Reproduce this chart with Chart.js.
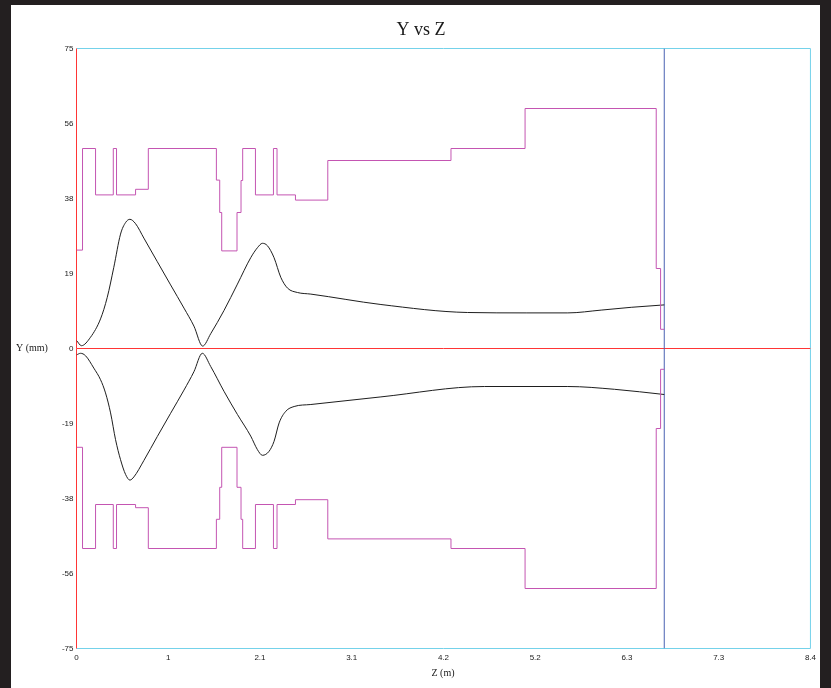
<!DOCTYPE html>
<html>
<head>
<meta charset="utf-8">
<title>Y vs Z</title>
<script src="https://cdn.jsdelivr.net/npm/chart.js@4/dist/chart.umd.min.js"></script>
<style>
  html, body { margin: 0; padding: 0; background: #231f20; width: 831px; height: 688px; overflow: hidden; }
  #wrap { position: absolute; left: 11px; top: 5px; width: 809px; height: 683px; background: #ffffff; }
  canvas { display: block; }
</style>
</head>
<body>
<div id="wrap"><canvas id="c" width="809" height="683"></canvas></div>
<script>
// Axis ticks
const xTickValues = [0, 1.05, 2.1, 3.15, 4.2, 5.25, 6.3, 7.35, 8.4];
const xTickLabels = ['0', '1', '2.1', '3.1', '4.2', '5.2', '6.3', '7.3', '8.4'];
const yTickValues = [-75, -56.25, -37.5, -18.75, 0, 18.75, 37.5, 56.25, 75];
const yTickLabels = ['-75', '-56', '-38', '-19', '0', '19', '38', '56', '75'];

// Aperture (mm): each level holds from its z until the next z
const apertureZ     = [0, 0.069, 0.218, 0.421, 0.458, 0.676, 0.822, 1.601, 1.639, 1.662, 1.837, 1.883, 1.902, 2.048, 2.254, 2.295, 2.506, 2.876, 4.286, 5.134, 6.635, 6.685, 6.727];
const apertureUpper = [24.6, 50, 38.4, 50, 38.4, 39.8, 50, 42.1, 34, 24.4, 34, 42, 50, 38.4, 50, 38.4, 37.1, 47, 50, 60, 20, 4.8, 4.8];
const apertureLower = [-24.7, -50, -39, -50, -39, -39.8, -50, -42.7, -34.7, -24.7, -34.7, -42.7, -50, -39, -50, -39, -37.8, -47.6, -50, -60, -20, -5.2, -5.2];

// Beam envelope (mm)
const envUpperZ = [0, 0.057, 0.16, 0.275, 0.352, 0.427, 0.504, 0.562, 0.611, 0.676, 0.771, 0.925, 1.077, 1.23, 1.344, 1.444, 1.536, 1.688, 1.842, 1.994, 2.071, 2.128, 2.185, 2.261, 2.338, 2.415, 2.529, 2.682, 3.484, 4.477, 5.146, 5.623, 6.005, 6.349, 6.727];
const envUpperY = [2.0, 0.7, 2.8, 7.4, 12.8, 20.3, 28.6, 31.5, 32.3, 31.2, 27.6, 21.7, 15.9, 10.1, 5.6, 0.6, 3.7, 9.5, 16.1, 22.7, 25.2, 26.3, 25.7, 22.7, 17.8, 15.1, 14.0, 13.6, 11.0, 9.0, 8.9, 8.9, 9.6, 10.3, 10.9];
const envLowerZ = [0, 0.046, 0.103, 0.198, 0.275, 0.332, 0.39, 0.447, 0.504, 0.562, 0.611, 0.657, 0.771, 0.925, 1.077, 1.23, 1.344, 1.44, 1.536, 1.688, 1.842, 1.994, 2.071, 2.128, 2.204, 2.261, 2.319, 2.395, 2.491, 2.682, 3.484, 4.668, 5.623, 6.158, 6.727];
const envLowerY = [-1.6, -1.2, -1.8, -4.9, -7.8, -11.1, -16.1, -22.8, -27.8, -31.5, -32.9, -32.1, -28.0, -22.0, -16.2, -10.4, -5.8, -1.2, -4.5, -10.7, -16.5, -21.9, -25.3, -26.7, -25.7, -23.2, -18.6, -15.7, -14.5, -14.0, -12.1, -9.5, -9.5, -10.2, -11.5];

// End of the beamline (m)
const beamlineEndZ = 6.727;

const APERTURE = '#c455b2';
const ENVELOPE = '#1e1e1e';
const RED = '#ff3535';
const CYAN = '#74d2ea';
const BLUE = '#4a62b2';

const pairs = (zs, ys) => zs.map((z, i) => ({ x: z, y: ys[i] }));

const framePlugin = {
  id: 'frame',
  beforeDatasetsDraw(chart) {
    const { ctx, chartArea: a, scales } = chart;
    const y0 = scales.y.getPixelForValue(0);
    ctx.save();
    ctx.lineWidth = 1;
    ctx.strokeStyle = CYAN;
    ctx.beginPath();
    ctx.moveTo(a.left, a.top);
    ctx.lineTo(a.right, a.top);
    ctx.lineTo(a.right, a.bottom);
    ctx.lineTo(a.left, a.bottom);
    ctx.stroke();
    ctx.strokeStyle = RED;
    ctx.beginPath();
    ctx.moveTo(a.left, a.top);
    ctx.lineTo(a.left, a.bottom);
    ctx.moveTo(a.left, y0);
    ctx.lineTo(a.right, y0);
    ctx.stroke();
    ctx.restore();
  },
  afterDraw(chart) {
    const { ctx, scales } = chart;
    ctx.save();
    ctx.fillStyle = '#1a1a1a';
    ctx.textBaseline = 'middle';
    ctx.font = '18px "Liberation Serif"';
    ctx.textAlign = 'center';
    ctx.fillText('Y vs Z', 410, 25.5);
    ctx.font = '10px "Liberation Serif"';
    ctx.textAlign = 'left';
    ctx.fillText('Y (mm)', 5, scales.y.getPixelForValue(0));
    ctx.textAlign = 'center';
    ctx.fillText('Z (m)', 432, 668);
    ctx.restore();
  }
};

new Chart(document.getElementById('c'), {
  type: 'scatter',
  data: {
    datasets: [
      { data: pairs(apertureZ, apertureUpper), showLine: true, stepped: 'before', borderColor: APERTURE, borderWidth: 1, pointRadius: 0 },
      { data: pairs(apertureZ, apertureLower), showLine: true, stepped: 'before', borderColor: APERTURE, borderWidth: 1, pointRadius: 0 },
      { data: pairs(envUpperZ, envUpperY), showLine: true, cubicInterpolationMode: 'monotone', borderColor: ENVELOPE, borderWidth: 1, pointRadius: 0 },
      { data: pairs(envLowerZ, envLowerY), showLine: true, cubicInterpolationMode: 'monotone', borderColor: ENVELOPE, borderWidth: 1, pointRadius: 0 },
      { data: [{ x: beamlineEndZ, y: -75 }, { x: beamlineEndZ, y: 75 }], showLine: true, borderColor: BLUE, borderWidth: 1, pointRadius: 0 }
    ]
  },
  options: {
    responsive: false,
    animation: false,
    devicePixelRatio: 1,
    layout: { padding: { left: 0, right: 9.5, top: 43.5, bottom: 0 } },
    plugins: { legend: { display: false }, tooltip: { enabled: false }, title: { display: false } },
    scales: {
      x: {
        type: 'linear', min: 0, max: 8.4,
        grid: { display: false, drawTicks: false },
        border: { display: false },
        afterBuildTicks: s => { s.ticks = xTickValues.map(v => ({ value: v })); },
        afterFit: s => { s.height = 39.5; },
        ticks: {
          padding: 4, autoSkip: false, maxRotation: 0,
          font: { family: 'Liberation Sans', size: 8 }, color: '#1a1a1a',
          callback: (v, i) => xTickLabels[i]
        }
      },
      y: {
        type: 'linear', min: -75, max: 75,
        grid: { display: false, drawTicks: false },
        border: { display: false },
        afterBuildTicks: s => { s.ticks = yTickValues.map(v => ({ value: v })); },
        afterFit: s => { s.width = 65.5; },
        ticks: {
          padding: 3, autoSkip: false,
          font: { family: 'Liberation Sans', size: 8 }, color: '#1a1a1a',
          callback: (v, i) => yTickLabels[i]
        }
      }
    }
  },
  plugins: [framePlugin]
});
</script>
</body>
</html>
